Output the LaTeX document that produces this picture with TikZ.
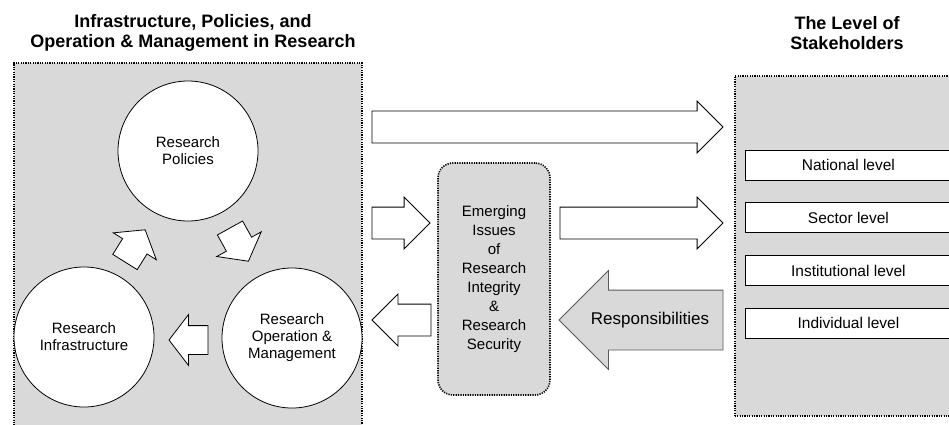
\documentclass[tikz,border=0pt]{standalone}
\usepackage{fontspec}
\setmainfont{Liberation Sans}
\usetikzlibrary{shapes.arrows, positioning}

\begin{document}
\begin{tikzpicture}[
    x=1pt,
    y=-1pt,
    panel/.style={
        draw,
        fill=gray!30,
        line width=1.6pt,
        dash pattern=on 1.2pt off 1.2pt,
        inner sep=0pt,
    },
    topic/.style={
        circle,
        draw,
        fill=white,
        line width=0.8pt,
        minimum size=140pt,
        inner sep=0pt,
        align=center,
        font=\fontsize{15}{17}\selectfont,
    },
    title/.style={
        align=center,
        font=\fontsize{18}{20}\selectfont\bfseries,
    },
    level/.style={
        draw,
        fill=white,
        line width=0.8pt,
        minimum width=206pt,
        minimum height=30pt,
        font=\fontsize{15.5}{17}\selectfont,
    },
    flow/.style={
        single arrow,
        draw,
        fill=white,
        line width=0.8pt,
        inner xsep=0pt,
        inner ysep=15.5pt,
        outer sep=0pt,
        single arrow head extend=10pt,
        single arrow tip angle=90,
        anchor=tail,
    },
    cycle/.style={
        flow,
        inner ysep=14pt,
        single arrow head extend=11pt,
        single arrow tip angle=105,
        minimum height=38pt,
    }
]
    \useasboundingbox (0,0) rectangle (949,425);
    \clip (0,0) rectangle (949,425);

    % Titles
    \node[title] (lefttitle) at (193,33) {Infrastructure, Policies, and\\Operation \& Management in Research};
    \node[title] (righttitle) at (847,33) {The Level of\\Stakeholders};

    % Panels
    \node[panel, anchor=north west, minimum width=348pt, minimum height=380pt] (leftpanel) at (13,62) {};
    \node[panel, anchor=north west, minimum width=240pt, minimum height=340pt] (rightpanel) at (734,75) {};

    % Research cycle
    \node[topic] (policies) at (188,151) {Research\\Policies};
    \node[topic] (infra) at (84,337) {Research\\Infrastructure};
    \node[topic] (opmgmt) at (292,338) {Research\\Operation \&\\Management};
    \node[cycle, rotate=58] (infratopol) at (125,262) {};
    \node[cycle, rotate=-61] (poltoop) at (230,228) {};
    \node[cycle, rotate=180, minimum height=39pt] (optoinfra) at (208,340) {};

    % Emerging issues
    \node[panel, rounded corners=15pt, minimum width=112pt, minimum height=232pt,
          align=center, font=\fontsize{15}{19}\selectfont] (issues) at (494,279)
          {Emerging\\Issues\\of\\Research\\Integrity\\\&\\Research\\Security};

    % Flows
    \node[flow, minimum height=351pt] (toplevels) at (372,127) {};
    \node[flow, minimum height=58pt] (toissues) at (372,223) {};
    \node[flow, minimum height=163pt] (issuestolevels) at (560,223) {};
    \node[flow, rotate=180, minimum height=59pt] (issuestocycle) at (431,320) {};
    \node[flow, fill=gray!30, draw=black!65, shape border rotate=180, inner ysep=29.5pt,
          single arrow head extend=19.5pt, minimum height=164pt] (resp) at (723,320) {};
    \node[font=\fontsize{17}{20}\selectfont] (resplabel) at (650,320) {Responsibilities};

    % Stakeholder levels
    \node[level, anchor=west] (national) at (745,165) {National level};
    \node[level, below=22pt of national] (sector) {Sector level};
    \node[level, below=22pt of sector] (institutional) {Institutional level};
    \node[level, below=22pt of institutional] (individual) {Individual level};
\end{tikzpicture}
\end{document}
